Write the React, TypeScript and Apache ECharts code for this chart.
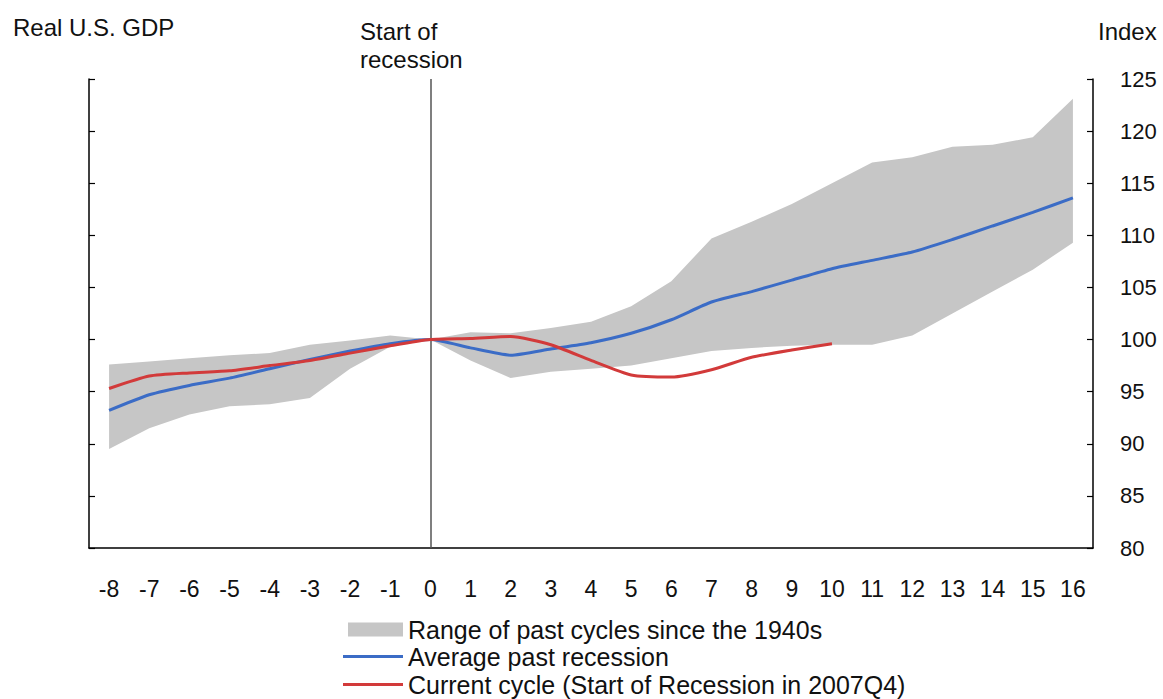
import React, { useEffect, useRef } from "react";
import * as echarts from "echarts";

const quarters = ["-8","-7","-6","-5","-4","-3","-2","-1","0","1","2","3","4","5","6","7","8","9","10","11","12","13","14","15","16"];
const averagePast = [93.2, 94.7, 95.6, 96.3, 97.2, 98.1, 98.9, 99.6, 100, 99.2, 98.5, 99.1, 99.7, 100.6, 101.9, 103.6, 104.6, 105.7, 106.8, 107.6, 108.4, 109.6, 110.9, 112.2, 113.6];
const currentCycle = [95.3, 96.5, 96.8, 97.0, 97.5, 98.0, 98.7, 99.4, 100, 100.1, 100.3, 99.5, 98.0, 96.6, 96.4, 97.1, 98.3, 99.0, 99.6, null, null, null, null, null, null];
const rangeLow = [89.5, 91.5, 92.8, 93.6, 93.8, 94.4, 97.2, 99.3, 100, 98.0, 96.3, 96.9, 97.2, 97.5, 98.2, 98.9, 99.2, 99.4, 99.5, 99.5, 100.4, 102.5, 104.6, 106.7, 109.3];
const rangeHigh = [97.6, 97.9, 98.2, 98.5, 98.7, 99.5, 99.9, 100.4, 100, 100.7, 100.6, 101.1, 101.7, 103.2, 105.6, 109.7, 111.3, 113.0, 115.0, 117.0, 117.5, 118.5, 118.7, 119.4, 123.1];

const RANGE_NAME = "Range of past cycles since the 1940s";
const AVG_NAME = "Average past recession";
const CUR_NAME = "Current cycle (Start of Recession in 2007Q4)";

const FONT = "'Liberation Sans', Arial, sans-serif";
const GRAY = "#c6c6c6";
const BLUE = "#3b6cc6";
const RED = "#d23a3a";
const INK = "#111111";

export default function App() {
  const ref = useRef<HTMLDivElement>(null);
  useEffect(() => {
    if (!ref.current) return;
    const chart = echarts.init(ref.current, undefined, { renderer: "svg" });
    const rangeDiff = rangeHigh.map((h, i) => +(h - rangeLow[i]).toFixed(2));
    const legendText = { fontSize: 25, color: INK, fontFamily: FONT };
    chart.setOption({
      animation: false,
      backgroundColor: "#ffffff",
      textStyle: { fontFamily: FONT },
      grid: { left: 89, right: 70, top: 79, bottom: 151, containLabel: false },
      xAxis: {
        type: "category",
        data: quarters,
        boundaryGap: true,
        axisLine: { lineStyle: { color: "#000", width: 1.5 } },
        axisTick: { inside: true, length: 6, interval: 0, lineStyle: { color: "#000", width: 1.2 } },
        axisLabel: { interval: 0, fontSize: 23, color: INK, margin: 29, fontFamily: FONT },
        splitLine: { show: false },
      },
      yAxis: [
        {
          type: "value",
          position: "right",
          min: 80,
          max: 125,
          interval: 5,
          axisLine: { show: true, lineStyle: { color: "#000", width: 1.5 } },
          axisTick: { show: true, inside: true, length: 6, lineStyle: { color: "#000", width: 1.2 } },
          axisLabel: { fontSize: 22, color: INK, margin: 27, fontFamily: FONT },
          splitLine: { show: false },
        },
        {
          type: "value",
          position: "left",
          min: 80,
          max: 125,
          interval: 5,
          axisLine: { show: true, lineStyle: { color: "#000", width: 1.5 } },
          axisTick: { show: true, inside: true, length: 6, lineStyle: { color: "#000", width: 1.2 } },
          axisLabel: { show: false },
          splitLine: { show: false },
        },
      ],
      legend: [
        {
          data: [{ name: RANGE_NAME, icon: "rect" }],
          left: 348, top: 617, padding: 0,
          itemWidth: 55, itemHeight: 14,
          textStyle: legendText,
          selectedMode: false,
        },
        {
          data: [{ name: AVG_NAME, icon: "rect" }],
          left: 343, top: 644, padding: 0,
          itemWidth: 60, itemHeight: 3,
          textStyle: legendText,
          selectedMode: false,
        },
        {
          data: [{ name: CUR_NAME, icon: "rect" }],
          left: 343, top: 672, padding: 0,
          itemWidth: 60, itemHeight: 3,
          textStyle: legendText,
          selectedMode: false,
        },
      ],
      graphic: [
        { type: "text", left: 13, top: 15, style: { text: "Real U.S. GDP", fontSize: 24, fill: INK, fontFamily: FONT } },
        { type: "text", left: 360, top: 17, style: { text: "Start of\nrecession", fontSize: 24, lineHeight: 28, fill: INK, fontFamily: FONT } },
        { type: "text", left: 1098, top: 19, style: { text: "Index", fontSize: 24, fill: INK, fontFamily: FONT } },
      ],
      series: [
        {
          name: "rangeLow",
          type: "line",
          data: rangeLow,
          stack: "band",
          symbol: "none",
          lineStyle: { opacity: 0 },
          areaStyle: { opacity: 0 },
          silent: true,
          z: 1,
        },
        {
          name: RANGE_NAME,
          type: "line",
          data: rangeDiff,
          stack: "band",
          symbol: "none",
          itemStyle: { color: GRAY },
          lineStyle: { opacity: 0 },
          areaStyle: { color: GRAY, opacity: 1 },
          z: 2,
          markLine: {
            silent: true,
            symbol: ["none", "none"],
            label: { show: false },
            lineStyle: { color: "#555", width: 1.5, type: "solid" },
            data: [{ xAxis: "0" }],
          },
        },
        {
          name: AVG_NAME,
          type: "line",
          data: averagePast,
          symbol: "none",
          smooth: 0.2,
          itemStyle: { color: BLUE },
          lineStyle: { color: BLUE, width: 3 },
          z: 4,
        },
        {
          name: CUR_NAME,
          type: "line",
          data: currentCycle,
          symbol: "none",
          smooth: 0.2,
          itemStyle: { color: RED },
          lineStyle: { color: RED, width: 3 },
          z: 5,
        },
      ],
    });
    return () => chart.dispose();
  }, []);
  return <div ref={ref} style={{ width: 1163, height: 699, position: "absolute", left: 0, top: 0 }} />;
}
